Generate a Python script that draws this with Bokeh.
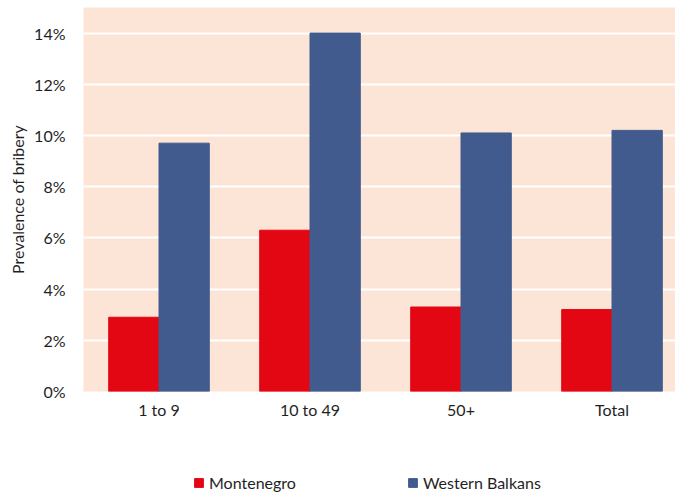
from bokeh.plotting import figure
from bokeh.layouts import column
from bokeh.models import Range1d, FixedTicker, Legend, LegendItem, NumeralTickFormatter
from bokeh.embed import file_html
from bokeh.resources import INLINE

categories = ["1 to 9", "10 to 49", "50+", "Total"]
montenegro = [0.029, 0.063, 0.033, 0.032]
western_balkans = [0.097, 0.140, 0.101, 0.102]
y_ticks = [0.0, 0.02, 0.04, 0.06, 0.08, 0.10, 0.12, 0.14]
series_names = ["Montenegro", "Western Balkans"]

RED = "#E30613"
BLUE = "#425B8E"
BG = "#FCE4D6"
TXT = "#1f1f1f"
FONT = "Lato"
FS = "16px"

centers = [i + 0.5 for i in range(len(categories))]
bar_w = 0.333
x_m = [c - bar_w / 2 for c in centers]
x_w = [c + bar_w / 2 for c in centers]

p = figure(width=675, height=430, output_backend="svg", toolbar_location=None,
           x_range=Range1d(0, 592 / 151), y_range=Range1d(0, 0.15),
           min_border_left=83, min_border_right=0, min_border_top=7, min_border_bottom=39)
p.background_fill_color = BG
p.border_fill_color = "white"
p.outline_line_color = None

r1 = p.vbar(x=x_m, top=montenegro, width=bar_w, fill_color=RED, line_color=RED)
r2 = p.vbar(x=x_w, top=western_balkans, width=bar_w, fill_color=BLUE, line_color=BLUE)

p.xgrid.grid_line_color = None
p.ygrid.grid_line_color = "white"
p.ygrid.grid_line_width = 2

p.yaxis.ticker = FixedTicker(ticks=y_ticks)
p.yaxis.formatter = NumeralTickFormatter(format="0%")
p.yaxis.axis_label = "Prevalence of bribery"
p.yaxis.axis_label_standoff = 4
p.yaxis.axis_label_text_font_style = "normal"
p.yaxis.axis_label_text_font = FONT
p.yaxis.axis_label_text_font_size = FS
p.yaxis.axis_label_text_color = TXT
p.yaxis.major_label_standoff = 12

p.xaxis.ticker = FixedTicker(ticks=centers)
p.xaxis.major_label_overrides = {c: lab for c, lab in zip(centers, categories)}
p.xaxis.major_label_standoff = 2

for ax in (p.xaxis, p.yaxis):
    ax.axis_line_color = None
    ax.major_tick_line_color = None
    ax.minor_tick_line_color = None
    ax.major_label_text_font = FONT
    ax.major_label_text_font_size = FS
    ax.major_label_text_color = TXT

# legend panel (its bars lie outside its visible y range; only the legend shows)
lg = figure(width=675, height=64, output_backend="svg", toolbar_location=None,
            x_range=Range1d(0, 592 / 151), y_range=Range1d(1, 2),
            x_axis_type=None, y_axis_type=None,
            min_border_left=83, min_border_right=0, min_border_top=0, min_border_bottom=0)
lg.outline_line_color = None
lg.grid.visible = False
lg.background_fill_color = "white"
lg.border_fill_color = "white"
d1 = lg.vbar(x=x_m, top=montenegro, width=bar_w, fill_color=RED, line_color=RED)
d2 = lg.vbar(x=x_w, top=western_balkans, width=bar_w, fill_color=BLUE, line_color=BLUE)

legend = Legend(items=[LegendItem(label=series_names[0], renderers=[d1]),
                       LegendItem(label=series_names[1], renderers=[d2])],
                orientation="horizontal", location=(110, 2), spacing=111,
                glyph_width=11, glyph_height=11, label_standoff=5,
                label_text_font=FONT, label_text_font_size=FS, label_text_color=TXT,
                border_line_color=None, background_fill_alpha=0, padding=0, margin=0)
lg.add_layout(legend, "center")

layout = column(p, lg, spacing=0)
open("out.html", "w").write(file_html(layout, INLINE))
